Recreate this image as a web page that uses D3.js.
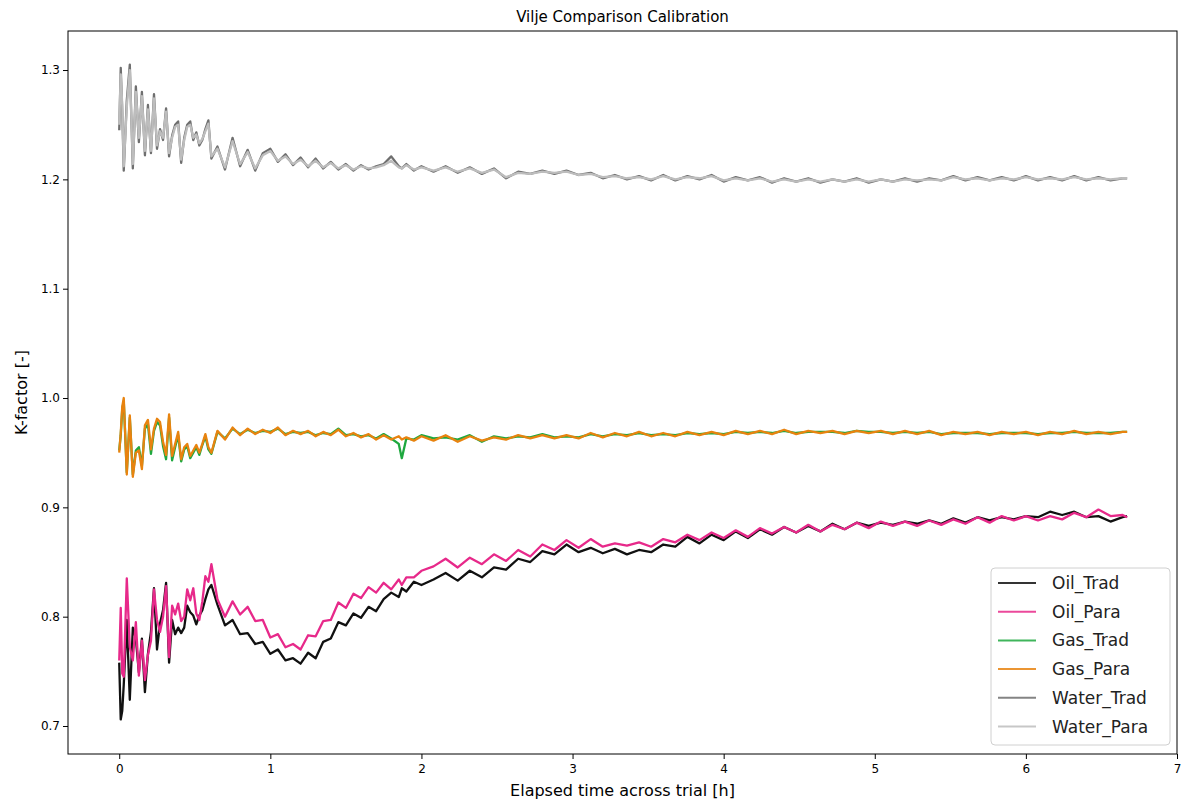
<!DOCTYPE html>
<html>
<head>
<meta charset="utf-8">
<script src="https://cdn.jsdelivr.net/npm/d3@7/dist/d3.min.js"></script>
<style>
  body { margin: 0; background: #fff; }
  text { font-family: "DejaVu Sans", sans-serif; }
</style>
</head>
<body>
<div id="chart"></div>
<script>
var width = 1183;
var height = 805;
var margin = {top: 31, right: 6, bottom: 51, left: 68};

// elapsed time [h], shared by every series
var hours = [
  0, 0.01, 0.02, 0.03, 0.05, 0.07, 0.09, 0.11, 0.13, 0.15,
  0.17, 0.19, 0.21, 0.23, 0.25, 0.27, 0.29, 0.31, 0.33, 0.35,
  0.37, 0.39, 0.41, 0.43, 0.45, 0.47, 0.49, 0.51, 0.53, 0.55,
  0.57, 0.59, 0.61,
  0.65, 0.70, 0.75, 0.80, 0.85, 0.90, 0.95, 1.00, 1.05, 1.10,
  1.15, 1.20, 1.25, 1.30, 1.35, 1.40, 1.45, 1.50, 1.55, 1.60,
  1.65, 1.70, 1.75, 1.80, 1.85, 1.87, 1.90, 1.95, 2.00,
  2.08, 2.16, 2.24, 2.32, 2.40, 2.48, 2.56, 2.64, 2.72, 2.80,
  2.88, 2.96, 3.04, 3.12, 3.20, 3.28, 3.36, 3.44, 3.52, 3.60,
  3.68, 3.76, 3.84, 3.92, 4.00, 4.08, 4.16, 4.24, 4.32, 4.40,
  4.48, 4.56, 4.64, 4.72, 4.80, 4.88, 4.96, 5.04, 5.12, 5.20,
  5.28, 5.36, 5.44, 5.52, 5.60, 5.68, 5.76, 5.84, 5.92, 6.00,
  6.08, 6.16, 6.24, 6.32, 6.40, 6.48, 6.56, 6.64, 6.67
];

var oilTrad = [
  0.758, 0.706, 0.714, 0.738, 0.797, 0.724, 0.790, 0.780, 0.749, 0.780,
  0.731, 0.766, 0.786, 0.826, 0.770, 0.794, 0.806, 0.831, 0.758, 0.797,
  0.784, 0.790, 0.785, 0.790, 0.810, 0.804, 0.801, 0.793, 0.801, 0.806,
  0.816, 0.825, 0.829,
  0.811, 0.792, 0.797, 0.784, 0.785, 0.775, 0.777, 0.766, 0.770, 0.760,
  0.762, 0.757, 0.767, 0.762, 0.777, 0.780, 0.795, 0.792, 0.803, 0.799,
  0.809, 0.805, 0.816, 0.822, 0.818, 0.826, 0.823, 0.832, 0.829,
  0.834, 0.840, 0.833, 0.842, 0.836, 0.845, 0.843, 0.853, 0.850, 0.860,
  0.857, 0.866, 0.859, 0.863, 0.858, 0.862, 0.857, 0.861, 0.859, 0.866,
  0.864, 0.873, 0.867, 0.875, 0.870, 0.878, 0.872, 0.880, 0.875, 0.882,
  0.877, 0.883, 0.878, 0.885, 0.880, 0.886, 0.883, 0.886, 0.884, 0.887,
  0.885, 0.888, 0.885, 0.890, 0.886, 0.891, 0.888, 0.891, 0.889, 0.892,
  0.891, 0.896, 0.893, 0.896, 0.891, 0.892, 0.887, 0.891, 0.892
];

var oilPara = [
  0.760, 0.808, 0.748, 0.745, 0.835, 0.772, 0.760, 0.795, 0.746, 0.778,
  0.742, 0.765, 0.778, 0.825, 0.797, 0.786, 0.800, 0.828, 0.763, 0.810,
  0.802, 0.812, 0.796, 0.800, 0.825, 0.815, 0.826, 0.803, 0.797, 0.814,
  0.837, 0.832, 0.848,
  0.816, 0.800, 0.814, 0.802, 0.809, 0.796, 0.797, 0.781, 0.784, 0.772,
  0.775, 0.770, 0.783, 0.782, 0.796, 0.797, 0.813, 0.808, 0.821, 0.817,
  0.827, 0.822, 0.831, 0.825, 0.834, 0.829, 0.836, 0.836, 0.842,
  0.846, 0.853, 0.845, 0.854, 0.848, 0.857, 0.851, 0.861, 0.855, 0.866,
  0.861, 0.870, 0.863, 0.871, 0.864, 0.867, 0.865, 0.868, 0.864, 0.871,
  0.868, 0.875, 0.870, 0.877, 0.872, 0.879, 0.873, 0.881, 0.876, 0.882,
  0.877, 0.884, 0.878, 0.884, 0.880, 0.886, 0.881, 0.887, 0.883, 0.887,
  0.883, 0.888, 0.884, 0.889, 0.885, 0.891, 0.886, 0.892, 0.888, 0.892,
  0.888, 0.892, 0.889, 0.895, 0.891, 0.898, 0.892, 0.893, 0.891
];

var gasTrad = [
  0.952, 0.966, 0.990, 0.997, 0.932, 0.982, 0.930, 0.952, 0.955, 0.938,
  0.972, 0.976, 0.949, 0.970, 0.978, 0.975, 0.956, 0.944, 0.982, 0.943,
  0.955, 0.966, 0.942, 0.953, 0.956, 0.945, 0.950, 0.955, 0.948, 0.957,
  0.965, 0.953, 0.949,
  0.969, 0.963, 0.972, 0.967, 0.971, 0.968, 0.970, 0.969, 0.972, 0.967,
  0.969, 0.968, 0.969, 0.966, 0.968, 0.967, 0.972, 0.966, 0.967, 0.965,
  0.966, 0.963, 0.967, 0.963, 0.958, 0.945, 0.963, 0.962, 0.966,
  0.963, 0.964, 0.962, 0.966, 0.960, 0.965, 0.963, 0.965, 0.964, 0.967,
  0.964, 0.965, 0.964, 0.967, 0.965, 0.967, 0.966, 0.968, 0.966, 0.967,
  0.966, 0.968, 0.967, 0.968, 0.967, 0.969, 0.968, 0.969, 0.968, 0.970,
  0.968, 0.969, 0.969, 0.969, 0.968, 0.970, 0.969, 0.969, 0.968, 0.969,
  0.968, 0.969, 0.967, 0.968, 0.968, 0.968, 0.967, 0.968, 0.968, 0.968,
  0.967, 0.968, 0.968, 0.969, 0.968, 0.968, 0.968, 0.969, 0.969
];

var gasPara = [
  0.950, 0.968, 0.992, 1.000, 0.930, 0.984, 0.928, 0.950, 0.952, 0.935,
  0.975, 0.980, 0.953, 0.972, 0.981, 0.978, 0.960, 0.948, 0.985, 0.947,
  0.958, 0.969, 0.944, 0.955, 0.958, 0.947, 0.952, 0.957, 0.950, 0.958,
  0.967, 0.955, 0.950,
  0.970, 0.962, 0.973, 0.966, 0.972, 0.967, 0.971, 0.968, 0.973, 0.966,
  0.970, 0.967, 0.970, 0.965, 0.969, 0.966, 0.971, 0.965, 0.968, 0.964,
  0.967, 0.962, 0.966, 0.962, 0.965, 0.962, 0.964, 0.961, 0.965,
  0.961, 0.966, 0.960, 0.965, 0.961, 0.964, 0.962, 0.966, 0.963, 0.966,
  0.963, 0.966, 0.963, 0.968, 0.964, 0.968, 0.965, 0.969, 0.965, 0.968,
  0.965, 0.969, 0.966, 0.969, 0.966, 0.970, 0.967, 0.970, 0.967, 0.971,
  0.967, 0.970, 0.968, 0.970, 0.967, 0.970, 0.968, 0.970, 0.967, 0.970,
  0.967, 0.970, 0.966, 0.969, 0.967, 0.969, 0.966, 0.969, 0.967, 0.969,
  0.966, 0.969, 0.967, 0.970, 0.967, 0.969, 0.967, 0.969, 0.969
];

var waterTrad = [
  1.245, 1.302, 1.262, 1.208, 1.272, 1.305, 1.210, 1.285, 1.234, 1.280,
  1.222, 1.268, 1.224, 1.278, 1.228, 1.246, 1.236, 1.265, 1.221, 1.240,
  1.250, 1.253, 1.215, 1.238, 1.250, 1.253, 1.236, 1.243, 1.231, 1.236,
  1.246, 1.254, 1.219,
  1.230, 1.209, 1.238, 1.212, 1.227, 1.208, 1.224, 1.228, 1.216, 1.223,
  1.213, 1.220, 1.211, 1.219, 1.210, 1.216, 1.209, 1.214, 1.208, 1.213,
  1.209, 1.212, 1.214, 1.221, 1.212, 1.210, 1.214, 1.208, 1.212,
  1.207, 1.212, 1.206, 1.211, 1.205, 1.210, 1.201, 1.207, 1.205, 1.208,
  1.205, 1.208, 1.204, 1.206, 1.201, 1.204, 1.200, 1.203, 1.199, 1.204,
  1.199, 1.203, 1.200, 1.204, 1.198, 1.202, 1.199, 1.202, 1.197, 1.201,
  1.198, 1.201, 1.197, 1.200, 1.198, 1.201, 1.197, 1.200, 1.198, 1.201,
  1.198, 1.201, 1.199, 1.203, 1.199, 1.202, 1.199, 1.202, 1.199, 1.203,
  1.199, 1.202, 1.199, 1.203, 1.199, 1.202, 1.199, 1.201, 1.201
];

var waterPara = [
  1.250, 1.296, 1.268, 1.212, 1.266, 1.300, 1.214, 1.280, 1.238, 1.276,
  1.226, 1.264, 1.226, 1.274, 1.231, 1.244, 1.238, 1.262, 1.224, 1.238,
  1.248, 1.250, 1.218, 1.236, 1.248, 1.250, 1.238, 1.241, 1.233, 1.237,
  1.244, 1.251, 1.221,
  1.228, 1.211, 1.235, 1.214, 1.225, 1.210, 1.222, 1.226, 1.217, 1.221,
  1.214, 1.218, 1.212, 1.217, 1.211, 1.215, 1.210, 1.213, 1.209, 1.212,
  1.210, 1.211, 1.213, 1.217, 1.211, 1.210, 1.213, 1.209, 1.211,
  1.208, 1.211, 1.207, 1.210, 1.206, 1.209, 1.202, 1.206, 1.205, 1.207,
  1.206, 1.207, 1.204, 1.205, 1.202, 1.203, 1.201, 1.202, 1.200, 1.203,
  1.200, 1.202, 1.201, 1.203, 1.199, 1.201, 1.199, 1.201, 1.198, 1.200,
  1.198, 1.200, 1.198, 1.200, 1.198, 1.200, 1.198, 1.200, 1.198, 1.200,
  1.199, 1.200, 1.199, 1.202, 1.200, 1.201, 1.199, 1.201, 1.200, 1.202,
  1.200, 1.201, 1.200, 1.202, 1.200, 1.201, 1.200, 1.201, 1.201
];

var seriesNames = ["Oil_Trad", "Oil_Para", "Gas_Trad", "Gas_Para", "Water_Trad", "Water_Para"];
var seriesValues = [oilTrad, oilPara, gasTrad, gasPara, waterTrad, waterPara];
var seriesColors = ["#111111", "#e7298a", "#1fa83f", "#e8830f", "#6f6f6f", "#bdbdbd"];

var xTicks = [0, 1, 2, 3, 4, 5, 6, 7];
var yTicks = [0.7, 0.8, 0.9, 1.0, 1.1, 1.2, 1.3];

var svg = d3.select("#chart")
            .append("svg")
            .attr("width", width)
            .attr("height", height);

var x = d3.scaleLinear()
          .domain([-0.339, 7.0])
          .range([margin.left, width - margin.right]);
var y = d3.scaleLinear()
          .domain([0.6744, 1.3357])
          .range([height - margin.bottom, margin.top]);

var line = d3.line()
             .x(function(d) { return x(d[0]); })
             .y(function(d) { return y(d[1]); })
             .curve(d3.curveLinear);

// lines
var plot = svg.append("g");
seriesValues.forEach(function(vals, i) {
    var pts = hours.map(function(h, j) { return [h, vals[j]]; })
                   .filter(function(d) { return d[1] != null; });
    plot.append("path")
        .datum(pts)
        .attr("d", line)
        .attr("fill", "none")
        .attr("stroke", seriesColors[i])
        .attr("stroke-width", 2.3)
        .attr("stroke-linejoin", "round");
});

// axes
var xAxis = d3.axisBottom(x).tickValues(xTicks).tickSize(5).tickSizeOuter(0)
              .tickFormat(d3.format("d"));
var gx = svg.append("g")
    .attr("transform", "translate(0," + (height - margin.bottom) + ")")
    .call(xAxis);
var yAxis = d3.axisLeft(y).tickValues(yTicks).tickSize(5).tickSizeOuter(0)
              .tickFormat(d3.format(".1f"));
var gy = svg.append("g")
    .attr("transform", "translate(" + margin.left + ",0)")
    .call(yAxis);
[gx, gy].forEach(function(g) {
    g.select(".domain").remove();
    g.selectAll(".tick line").attr("stroke", "#000").attr("stroke-width", 1);
    g.selectAll(".tick text")
        .style("font-family", "DejaVu Sans, sans-serif")
        .style("font-size", "12px")
        .attr("fill", "#000");
});
gx.selectAll(".tick text").attr("dy", "0.95em");

// frame
svg.append("rect")
    .attr("x", margin.left)
    .attr("y", margin.top)
    .attr("width", width - margin.left - margin.right)
    .attr("height", height - margin.top - margin.bottom)
    .attr("fill", "none")
    .attr("stroke", "#000")
    .attr("stroke-width", 1);

// titles
svg.append("text")
    .attr("x", (margin.left + width - margin.right) / 2)
    .attr("y", 22)
    .style("text-anchor", "middle")
    .style("font-size", "15px")
    .text("Vilje Comparison Calibration");

svg.append("text")
    .attr("x", (margin.left + width - margin.right) / 2)
    .attr("y", 796)
    .style("text-anchor", "middle")
    .style("font-size", "16px")
    .text("Elapsed time across trial [h]");

svg.append("text")
    .attr("transform", "translate(27," + ((margin.top + height - margin.bottom) / 2) + ") rotate(-90)")
    .style("text-anchor", "middle")
    .style("font-size", "16px")
    .text("K-factor [-]");

// legend
var legend = svg.append("g").attr("transform", "translate(991,568)");
legend.append("rect")
    .attr("width", 179)
    .attr("height", 177)
    .attr("rx", 4)
    .attr("fill", "#fff")
    .attr("fill-opacity", 0.8)
    .attr("stroke", "#d0d0d0");
seriesNames.forEach(function(name, i) {
    var cy = 15 + i * 28.7;
    legend.append("line")
        .attr("x1", 7).attr("x2", 45)
        .attr("y1", cy).attr("y2", cy)
        .attr("stroke", seriesColors[i])
        .attr("stroke-opacity", 0.85)
        .attr("stroke-width", 2);
    legend.append("text")
        .attr("x", 61)
        .attr("y", cy + 6)
        .style("font-size", "17px")
        .attr("fill", "#222")
        .text(name);
});
</script>
</body>
</html>
